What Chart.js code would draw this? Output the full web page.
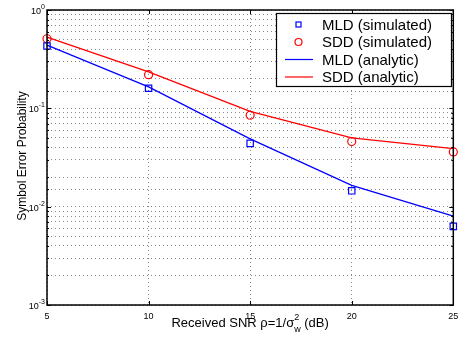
<!DOCTYPE html>
<html>
<head>
<meta charset="utf-8">
<script src="https://cdn.jsdelivr.net/npm/chart.js@4/dist/chart.umd.min.js"></script>
<style>
  html, body { margin: 0; padding: 0; background: #fff; }
</style>
</head>
<body>
<canvas id="c" width="459" height="339"></canvas>
<script>
// SNR values (dB)
const snr = [5, 10, 15, 20, 25];
// simulated symbol error probability
const mldSim = [0.43, 0.16, 0.044, 0.0145, 0.0063];
const sddSim = [0.51, 0.22, 0.085, 0.046, 0.036];
// analytic curves
const mldAna = [0.44, 0.165, 0.049, 0.0165, 0.008];
const sddAna = [0.53, 0.235, 0.093, 0.050, 0.039];
const xTicks = [5, 10, 15, 20, 25];
const yDecades = [0, -1, -2, -3];

const FONT = "'Liberation Sans', Arial, sans-serif";

function pts(ys) {
  return snr.map((x, i) => ({ x: x, y: ys[i] }));
}

// frame, tick labels, axis titles and legend, MATLAB style
const extras = {
  id: "extras",
  afterDraw(chart) {
    const ctx = chart.ctx;
    const a = chart.chartArea;
    const xs = chart.scales.x, ys = chart.scales.y;
    ctx.save();
    ctx.strokeStyle = "#000";
    ctx.lineWidth = 1.5;
    ctx.strokeRect(a.left, a.top, a.right - a.left, a.bottom - a.top);

    // inner tick marks
    ctx.lineWidth = 1;
    xTicks.forEach(v => {
      const px = Math.round(xs.getPixelForValue(v)) + 0.5;
      ctx.beginPath();
      ctx.moveTo(px, a.bottom); ctx.lineTo(px, a.bottom - 4);
      ctx.moveTo(px, a.top); ctx.lineTo(px, a.top + 4);
      ctx.stroke();
    });
    ys.ticks.forEach(t => {
      const py = Math.round(ys.getPixelForValue(t.value)) + 0.5;
      const len = t.major ? 4 : 2;
      ctx.beginPath();
      ctx.moveTo(a.left, py); ctx.lineTo(a.left + len, py);
      ctx.moveTo(a.right, py); ctx.lineTo(a.right - len, py);
      ctx.stroke();
    });

    ctx.fillStyle = "#000";
    ctx.font = "9px " + FONT;
    ctx.textAlign = "center";
    ctx.textBaseline = "top";
    xTicks.forEach(v => {
      ctx.fillText(String(v), xs.getPixelForValue(v), a.bottom + 7);
    });

    // y decade labels 10^n
    yDecades.forEach(n => {
      const py = ys.getPixelForValue(Math.pow(10, n));
      const exp = String(n);
      ctx.font = "7px " + FONT;
      const ew = ctx.measureText(exp).width;
      ctx.textAlign = "right";
      ctx.textBaseline = "alphabetic";
      const right = a.left - 2;
      ctx.fillText(exp, right, py - 1);
      ctx.font = "9px " + FONT;
      ctx.fillText("10", right - ew, py + 4);
    });

    // x axis title
    const y0 = 327;
    ctx.textAlign = "left";
    ctx.textBaseline = "alphabetic";
    ctx.font = "13px " + FONT;
    const p1 = "Received SNR \u03c1=1/\u03c3";
    const w1 = ctx.measureText(p1).width;
    ctx.font = "9px " + FONT;
    const wSup = Math.max(ctx.measureText("2").width, ctx.measureText("w").width);
    ctx.font = "13px " + FONT;
    const p2 = " (dB)";
    const w2 = ctx.measureText(p2).width;
    const total = w1 + wSup + w2;
    const sx = (a.left + a.right) / 2 - total / 2;
    ctx.fillText(p1, sx, y0);
    ctx.font = "9px " + FONT;
    ctx.fillText("2", sx + w1, y0 - 7);
    ctx.fillText("w", sx + w1, y0 + 5);
    ctx.font = "13px " + FONT;
    ctx.fillText(p2, sx + w1 + wSup, y0);

    // y axis title
    ctx.save();
    ctx.translate(23, 156);
    ctx.rotate(-Math.PI / 2);
    ctx.font = "12px " + FONT;
    ctx.textAlign = "center";
    ctx.textBaseline = "middle";
    ctx.fillText("Symbol Error Probability", 0, 0);
    ctx.restore();

    // legend
    const lx = 276, ly = 13, lw = 175, lh = 73;
    ctx.fillStyle = "#fff";
    ctx.fillRect(lx, ly, lw, lh);
    ctx.lineWidth = 1.2;
    ctx.strokeStyle = "#000";
    ctx.strokeRect(lx + 0.5, ly + 0.5, lw, lh);
    const labels = ["MLD (simulated)", "SDD (simulated)", "MLD (analytic)", "SDD (analytic)"];
    const cols = ["#0000ff", "#ff0000", "#0000ff", "#ff0000"];
    ctx.font = "15px " + FONT;
    ctx.textBaseline = "middle";
    labels.forEach((t, i) => {
      const cy = ly + 11.5 + i * 17.5;
      ctx.strokeStyle = cols[i];
      ctx.lineWidth = 1.2;
      if (i === 0) {
        ctx.strokeRect(lx + 20, cy - 2.5, 5, 5);
      } else if (i === 1) {
        ctx.beginPath(); ctx.arc(lx + 22.5, cy, 3.5, 0, Math.PI * 2); ctx.stroke();
      } else {
        ctx.beginPath(); ctx.moveTo(lx + 9, cy); ctx.lineTo(lx + 37, cy); ctx.stroke();
      }
      ctx.fillStyle = "#000";
      ctx.textAlign = "left";
      ctx.fillText(t, lx + 46, cy + 1);
    });
    ctx.restore();
  }
};

new Chart(document.getElementById("c"), {
  type: "line",
  data: {
    datasets: [
      { label: "MLD (simulated)", data: pts(mldSim), showLine: false, borderColor: "#0000ff",
        pointStyle: "rect", pointRadius: 4.5, pointBorderWidth: 1.2, pointBackgroundColor: "rgba(0,0,0,0)" },
      { label: "SDD (simulated)", data: pts(sddSim), showLine: false, borderColor: "#ff0000",
        pointStyle: "circle", pointRadius: 4, pointBorderWidth: 1.2, pointBackgroundColor: "rgba(0,0,0,0)" },
      { label: "MLD (analytic)", data: pts(mldAna), borderColor: "#0000ff", borderWidth: 1.3,
        pointRadius: 0, tension: 0 },
      { label: "SDD (analytic)", data: pts(sddAna), borderColor: "#ff0000", borderWidth: 1.3,
        pointRadius: 0, tension: 0 }
    ]
  },
  options: {
    responsive: false,
    animation: false,
    clip: false,
    layout: { padding: { left: 47, right: 1, top: 10, bottom: 34 } },
    plugins: { legend: { display: false }, tooltip: { enabled: false } },
    scales: {
      x: {
        type: "linear", min: 5, max: 25,
        ticks: { display: false, stepSize: 5 },
        border: { display: false, dash: [1, 3] },
        grid: { color: "#888", lineWidth: 1, drawTicks: false }
      },
      y: {
        type: "logarithmic", min: 0.001, max: 1,
        ticks: { display: false },
        border: { display: false, dash: [1, 3] },
        grid: { color: "#888", lineWidth: 1, drawTicks: false }
      }
    }
  },
  plugins: [extras]
});
</script>
</body>
</html>
